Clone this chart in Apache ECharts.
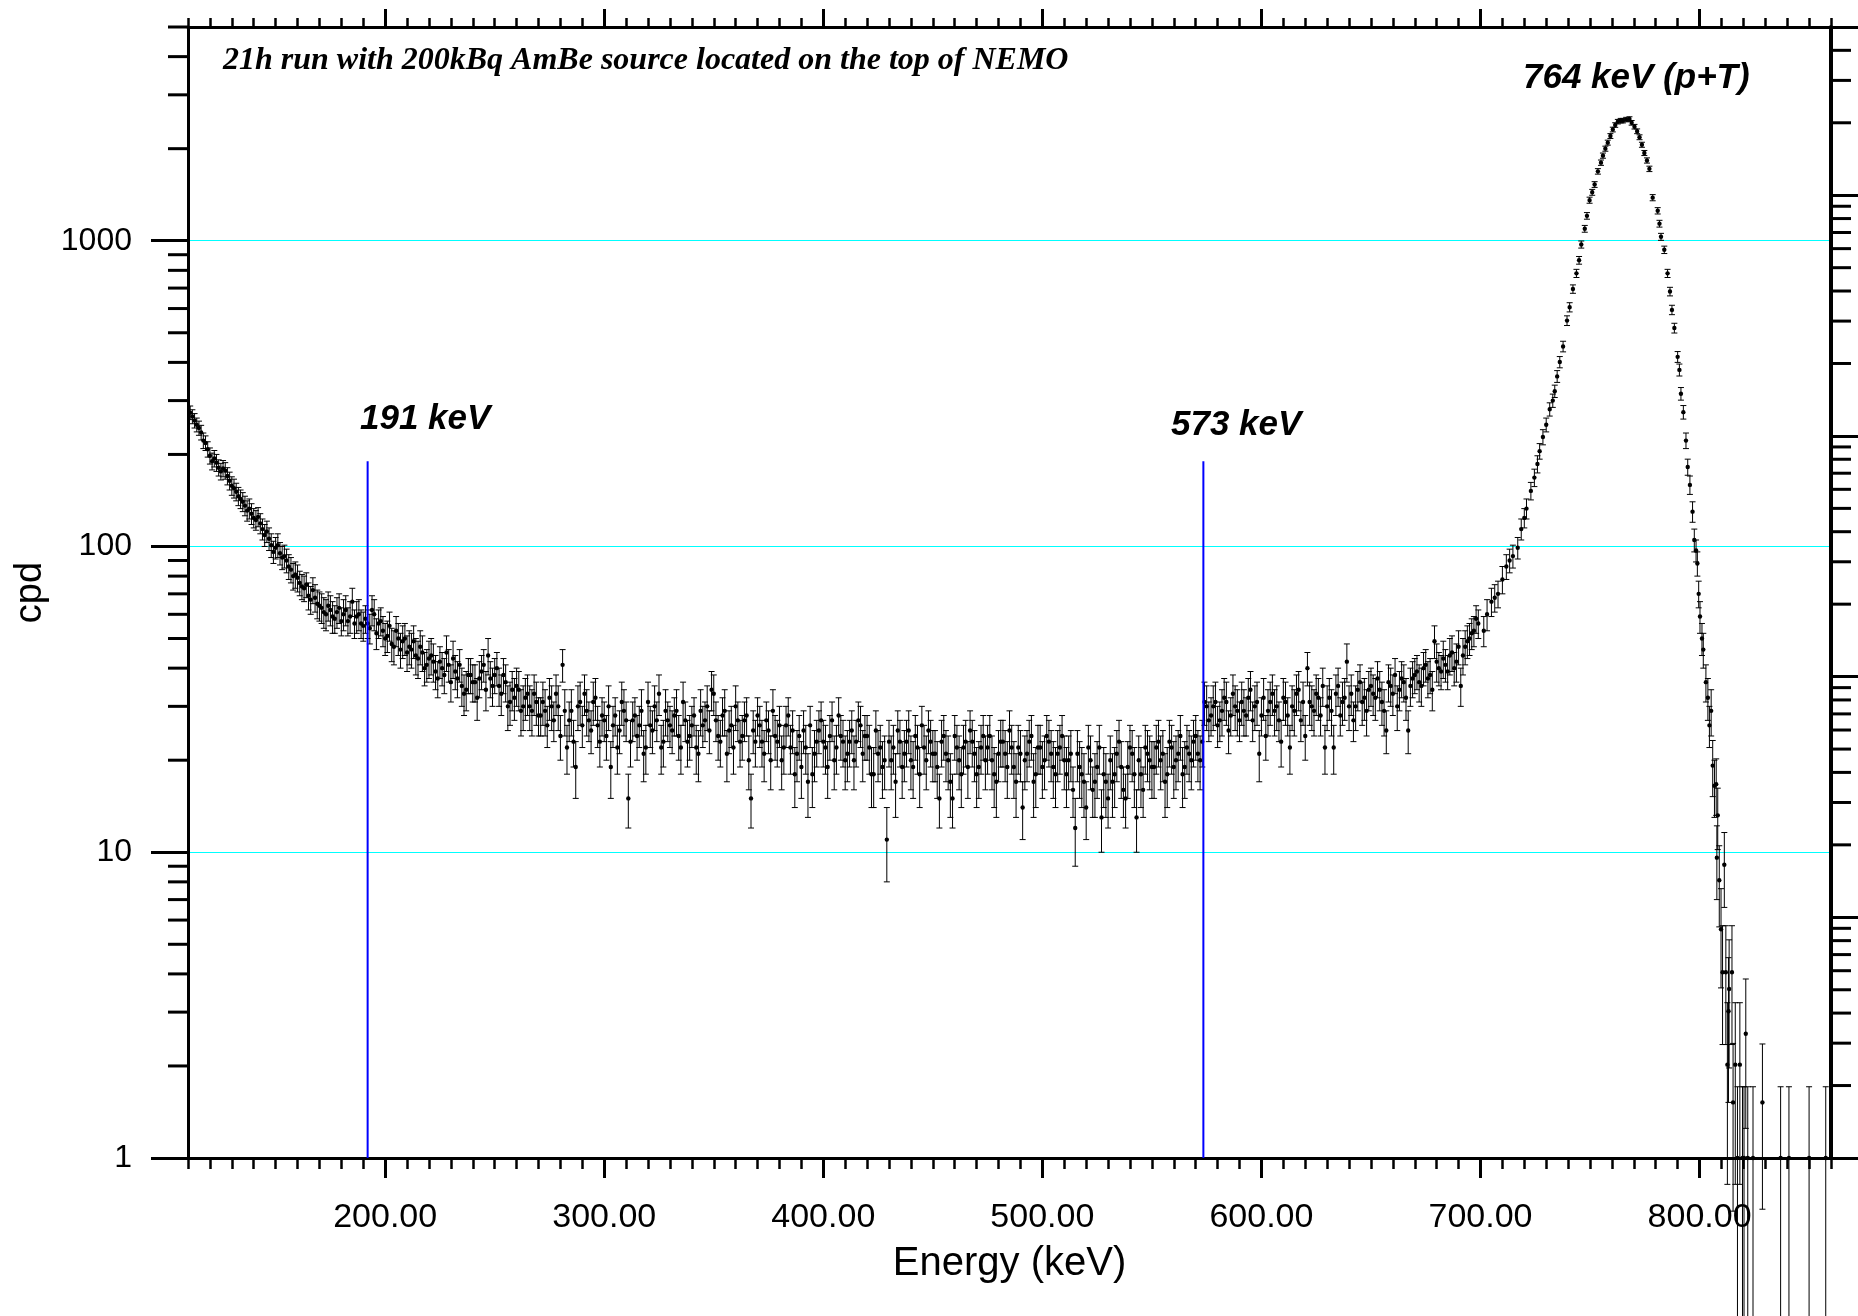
<!DOCTYPE html>
<html lang="en">
<head>
<meta charset="UTF-8">
<title>AmBe spectrum</title>
<script src="https://cdn.jsdelivr.net/npm/echarts@6/dist/echarts.min.js"></script>
<style>
  html, body { margin: 0; padding: 0; background: #fff; }
  #container { width: 1858px; height: 1316px; }
</style>
</head>
<body>
<div id="container"></div>
<script type="text/javascript">
// continuum, odd-keV bins (energy keV, counts per day, error)
var energyC = [
  111,113,115,117,119,121,123,125,127,129,
  131,133,135,137,139,141,143,145,147,149,
  151,153,155,157,159,161,163,165,167,169,
  171,173,175,177,179,181,183,185,187,189,
  191,193,195,197,199,201,203,205,207,209,
  211,213,215,217,219,221,223,225,227,229,
  231,233,235,237,239,241,243,245,247,249,
  251,253,255,257,259,261,263,265,267,269,
  271,273,275,277,279,281,283,285,287,289,
  291,293,295,297,299,301,303,305,307,309,
  311,313,315,317,319,321,323,325,327,329,
  331,333,335,337,339,341,343,345,347,349,
  351,353,355,357,359,361,363,365,367,369,
  371,373,375,377,379,381,383,385,387,389,
  391,393,395,397,399,401,403,405,407,409,
  411,413,415,417,419,421,423,425,427,429,
  431,433,435,437,439,441,443,445,447,449,
  451,453,455,457,459,461,463,465,467,469,
  471,473,475,477,479,481,483,485,487,489,
  491,493,495,497,499,501,503,505,507,509,
  511,513,515,517,519,521,523,525,527,529,
  531,533,535,537,539,541,543,545,547,549,
  551,553,555,557,559,561,563,565,567,569,
  571,573,575,577,579,581,583,585,587,589,
  591,593,595,597,599,601,603,605,607,609,
  611,613,615,617,619,621,623,625,627,629,
  631,633,635,637,639,641,643,645,647,649,
  651,653,655,657,659,661,663,665,667,669,
  671,673,675,677,679,681,683,685,687,689,
  691,693,695,697,699
];
var cpdC = [
  274,258,244,222,208,190,188,176,177,164,
  155,146,140,131,128,122,119,109,106,96,
  101,92,90,84,81,76,73,69,72,65,
  63,60,62,58,63,60,57,66,59,56,
  58,54,60,56,53,51,48,53,46,50,
  47,49,43,45,41,44,39,42,38,41,
  43,37,35,34,38,36,37,41,44,35,
  40,33,36,31,32,34,30,33,29,31,
  28,29,32,27,30,41,22,29,19,31,
  33,27,31,26,28,24,19,28,25,29,
  15,27,24,29,22,26,30,33,23,27,
  25,29,22,27,24,28,21,26,30,34,
  27,23,29,25,22,27,24,28,15,23,
  26,21,25,29,23,20,26,22,18,24,
  25,17,18,23,27,22,24,20,28,23,
  21,25,23,26,24,22,18,21,19,11,
  20,17,23,21,25,19,22,26,20,23,
  21,15,24,20,15,22,18,23,25,21,
  19,24,22,20,17,23,21,25,19,22,
  14,21,24,18,22,20,23,19,21,24,
  18,21,12,19,17,22,16,19,13,17,
  20,18,23,16,19,21,13,18,22,20,
  19,23,21,18,22,20,24,19,21,23,
  21,23,30,28,31,27,32,25,33,29,
  31,28,34,30,21,32,29,33,30,23,
  31,22,29,34,31,40,30,33,28,22,
  32,22,35,31,42,33,30,36,32,34,
  33,37,31,25,35,38,34,36,25,37,
  39,35,41,38,49,40,43,39,45,42,
  35,47,50,53,56
];
var sigmaC = [
  14,14,13,13,12,12,12,11,11,11,
  11,10,10,10,10,9,9,9,9,8,
  9,8,8,8,8,7,7,7,7,7,
  7,7,7,6,7,7,6,7,7,6,
  6,6,7,6,6,6,6,6,6,6,
  6,6,6,6,5,6,5,5,5,5,
  6,5,5,5,5,5,5,5,6,5,
  5,5,5,5,5,5,5,5,5,5,
  4,5,5,4,5,5,4,5,4,5,
  5,4,5,4,4,4,4,4,4,5,
  3,4,4,5,4,4,5,5,4,4,
  4,5,4,4,4,4,4,4,5,5,
  4,4,5,4,4,4,4,4,3,4,
  4,4,4,5,4,4,4,4,4,4,
  4,4,4,4,4,4,4,4,4,4,
  4,4,4,4,4,4,4,4,4,3,
  4,4,4,4,4,4,4,4,4,4,
  4,3,4,4,3,4,4,4,4,4,
  4,4,4,4,4,4,4,4,4,4,
  3,4,4,4,4,4,4,4,4,4,
  4,4,3,4,4,4,3,4,3,4,
  4,4,4,3,4,4,3,4,4,4,
  4,4,4,4,4,4,4,4,4,4,
  4,4,5,4,5,4,5,4,5,5,
  5,4,5,5,4,5,5,5,5,4,
  5,4,5,5,5,5,5,5,4,4,
  5,4,5,5,6,5,5,5,5,5,
  5,5,5,4,5,5,5,5,4,5,
  5,5,5,5,6,5,6,5,6,6,
  5,6,6,6,6
];

// continuum, even-keV bins
var energyC2 = [
  112,114,116,118,120,122,124,126,128,130,
  132,134,136,138,140,142,144,146,148,150,
  152,154,156,158,160,162,164,166,168,170,
  172,174,176,178,180,182,184,186,188,190,
  192,194,196,198,200,202,204,206,208,210,
  212,214,216,218,220,222,224,226,228,230,
  232,234,236,238,240,242,244,246,248,250,
  252,254,256,258,260,262,264,266,268,270,
  272,274,276,278,280,282,284,286,288,290,
  292,294,296,298,300,302,304,306,308,310,
  312,314,316,318,320,322,324,326,328,330,
  332,334,336,338,340,342,344,346,348,350,
  352,354,356,358,360,362,364,366,368,370,
  372,374,376,378,380,382,384,386,388,390,
  392,394,396,398,400,402,404,406,408,410,
  412,414,416,418,420,422,424,426,428,430,
  432,434,436,438,440,442,444,446,448,450,
  452,454,456,458,460,462,464,466,468,470,
  472,474,476,478,480,482,484,486,488,490,
  492,494,496,498,500,502,504,506,508,510,
  512,514,516,518,520,522,524,526,528,530,
  532,534,536,538,540,542,544,546,548,550,
  552,554,556,558,560,562,564,566,568,570,
  572,574,576,578,580,582,584,586,588,590,
  592,594,596,598,600,602,604,606,608,610,
  612,614,616,618,620,622,624,626,628,630,
  632,634,636,638,640,642,644,646,648,650,
  652,654,656,658,660,662,664,666,668,670,
  672,674,676,678,680,682,684,686,688,690,
  692,694,696,698
];
var cpdC2 = [
  266,250,236,218,198,194,181,180,170,158,
  151,143,136,133,124,125,114,112,101,99,
  95,93,86,80,79,74,75,67,68,64,
  61,64,59,61,57,62,59,56,60,55,
  56,62,52,57,50,55,47,50,49,45,
  46,44,47,40,43,42,37,40,45,36,
  39,41,33,38,36,32,39,34,37,38,
  35,38,30,34,35,29,32,30,33,28,
  31,26,30,33,24,29,27,23,30,26,
  29,25,32,23,27,30,26,22,31,27,
  23,28,26,21,31,25,27,22,29,26,
  28,24,31,23,26,22,29,27,25,33,
  24,28,21,26,30,23,27,20,25,28,
  23,27,20,24,26,22,28,25,21,19,
  22,26,21,25,23,19,27,22,24,20,
  23,20,27,21,24,18,25,22,20,23,
  22,25,19,23,20,24,18,22,25,21,
  19,23,21,17,24,20,22,19,23,18,
  22,20,24,18,21,23,19,22,17,21,
  20,23,17,22,19,24,21,18,22,20,
  20,16,21,18,14,20,17,22,18,15,
  17,21,19,15,22,18,20,16,21,19,
  22,20,17,23,19,21,18,22,20,24,
  20,31,27,30,26,29,31,28,30,27,
  29,32,27,31,28,24,31,29,27,32,
  28,30,33,27,24,31,29,32,35,30,
  29,33,28,32,30,27,34,31,29,35,
  32,34,29,36,33,30,37,32,35,38,
  36,40,37,34,42,39,41,44,40,47,
  44,49,52,58
];
var sigmaC2 = [
  14,13,13,12,12,12,11,11,11,11,
  10,10,10,10,9,9,9,9,9,8,
  8,8,8,8,8,7,7,7,7,7,
  7,7,7,7,6,7,7,6,7,6,
  6,7,6,6,6,6,6,6,6,6,
  6,6,6,5,6,6,5,5,6,5,
  5,5,5,5,5,5,5,5,5,5,
  5,5,5,5,5,5,5,5,5,4,
  5,4,5,5,4,5,4,4,5,4,
  5,4,5,4,4,5,4,4,5,4,
  4,4,4,4,5,4,4,4,5,4,
  4,4,5,4,4,4,5,4,4,5,
  4,4,4,4,5,4,4,4,4,4,
  4,4,4,4,4,4,4,4,4,4,
  4,4,4,4,4,4,4,4,4,4,
  4,4,4,4,4,4,4,4,4,4,
  4,4,4,4,4,4,4,4,4,4,
  4,4,4,4,4,4,4,4,4,4,
  4,4,4,4,4,4,4,4,4,4,
  4,4,4,4,4,4,4,4,4,4,
  4,3,4,4,3,4,4,4,4,3,
  4,4,4,3,4,4,4,3,4,4,
  4,4,4,4,4,4,4,4,4,4,
  4,5,4,5,4,5,5,4,5,4,
  5,5,4,5,4,4,5,5,4,5,
  4,5,5,4,4,5,5,5,5,5,
  5,5,4,5,5,4,5,5,5,5,
  5,5,5,5,5,5,5,5,5,5,
  5,5,5,5,6,5,5,6,5,6,
  6,6,6,6
];

// 764 keV peak and high-energy tail
var energyP = [
  701.5,703,705,706.5,708,710,711.8,713.3,714.8,717,
  718.6,720,721,723,724.6,726,727,728.5,730,731.6,
  733,733.9,735,736.2,737.7,739.5,740.7,742.2,743.8,745,
  746,747.6,748.6,749.8,751,752.1,753.6,755,755.9,757,
  758.1,759.3,760.4,761.5,762.7,764,765,766.5,768,769,
  770.3,771.5,772.6,773.7,774.8,776,777.1,778.6,780.9,781.7,
  782.4,783.9,785.4,786.5,787.4,788.5,790,790.8,791.5,792.6,
  793.8,794.6,795.6,796.8,797.6,798.4,799,799.6,800.2,801.1,
  801.7,802.9,803.8,804.5,805.3,806,806.8,807.6,807.9,808.3,
  809,809.8,810.5,811.3,812,812.7,813.2,813.5,814.8,815.3,
  816.3,817.3,818.4,819.6,820.3,821.1,822,824.4,828.7,837,
  840.8,850,857.6
];
var cpdP = [
  53,60,66,68,70,78,86,90,93,99,
  114,124,133,152,168,186,205,228,250,281,
  300,322,360,401,451,548,606,695,782,863,
  972,1094,1206,1357,1440,1527,1686,1800,1898,2000,
  2093,2200,2310,2390,2451,2470,2470,2490,2500,2430,
  2360,2280,2180,2060,1936,1830,1718,1383,1253,1137,
  1030,934,782,682,594,518,417,378,316,275,
  222,182,159,130,105,97,88,70,59,50,
  46,36,32,26,29,19.2,16.5,16.7,9.6,13.2,
  8.1,5.6,4.05,9.1,4.05,2.02,3.02,3.57,4.05,1.52,
  2.02,1,2.02,1,1,2.55,1,1,1.52,1,
  1,1,1
];
var sigmaP = [
  6,7,7,7,7,8,8,8,8,8,
  9,9,10,10,11,12,12,13,13,14,
  15,15,16,17,18,20,21,22,24,25,
  26,28,30,31,32,33,35,36,37,38,
  39,40,41,41,42,42,42,42,43,42,
  41,41,40,39,37,36,35,32,30,29,
  27,26,24,22,21,19,17,17,15,14,
  13,11,11,10,9,8,8,7,7,6,
  6,5,5,4,5,4,3.5,3.5,2.6,3,
  2.4,2,1.7,2.5,1.7,1.2,1.5,1.6,1.7,0.85,
  1.2,0.71,1.2,0.71,0.71,1.3,0.71,0.71,0.84,0.71,
  0.71,0.71,0.71
];

// axes
var xRange = [110, 860];
var xMajor = [200, 300, 400, 500, 600, 700, 800];
var yRange = [1, 5000];
var yRightRange = [1, 50000];
var leftMinor = [2,3,4,5,6,7,8,9, 20,30,40,50,60,70,80,90, 200,300,400,500,600,700,800,900, 2000,3000,4000,5000];
var rightMinor = [2,3,4,5,6,7,8,9, 20,30,40,50,60,70,80,90, 200,300,400,500,600,700,800,900,
                  2000,3000,4000,5000,6000,7000,8000,9000, 20000,30000,40000];

// marker lines
var markerEnergy = [192, 573.5];
var markerTop = 190;

var dom = document.getElementById('container');
var myChart = echarts.init(dom, null, { renderer: 'canvas' });

var points = [];
function addPoints(es, vs, ss) {
    for (var i = 0; i < es.length; i++) {
        // error bar can go below zero -> let it run off the bottom
        points.push([es[i], vs[i], Math.max(vs[i] - ss[i], 0.05), vs[i] + ss[i]]);
    }
}
addPoints(energyC, cpdC, sigmaC);
addPoints(energyC2, cpdC2, sigmaC2);
addPoints(energyP, cpdP, sigmaP);

var SANS = '"Liberation Sans", Arial, Helvetica, sans-serif';
var barStyle = { stroke: '#000', lineWidth: 1 };

function renderErr(params, api) {
    var e = api.value(0);
    var p = api.coord([e, api.value(1)]);
    var lo = api.coord([e, api.value(2)]);
    var hi = api.coord([e, api.value(3)]);
    return {
        type: 'group',
        children: [
            { type: 'line', shape: { x1: p[0], y1: lo[1], x2: p[0], y2: hi[1] }, style: barStyle },
            { type: 'line', shape: { x1: p[0] - 3, y1: hi[1], x2: p[0] + 3, y2: hi[1] }, style: barStyle },
            { type: 'line', shape: { x1: p[0] - 3, y1: lo[1], x2: p[0] + 3, y2: lo[1] }, style: barStyle },
            { type: 'circle', shape: { cx: p[0], cy: p[1], r: 2.2 }, style: { fill: '#000' } }
        ]
    };
}

function minorTick(dir) {
    return function (params, api) {
        var p = api.coord([api.value(0), api.value(1)]);
        return {
            type: 'line',
            shape: { x1: p[0], y1: p[1], x2: p[0] + dir * 20, y2: p[1] },
            style: { stroke: '#000', lineWidth: 3 }
        };
    };
}

function markerSeries(e) {
    return {
        type: 'line',
        xAxisIndex: 0,
        yAxisIndex: 0,
        data: [[e, yRange[0]], [e, markerTop]],
        symbol: 'none',
        lineStyle: { color: '#0000ff', width: 2 },
        silent: true,
        z: 5
    };
}

var baseX = { type: 'value', min: xRange[0], max: xRange[1], splitLine: { show: false } };

option = {
    animation: false,
    backgroundColor: '#fff',
    grid: { left: 188, right: 27, top: 27, bottom: 158 },
    xAxis: [
        Object.assign({}, baseX, {
            position: 'bottom',
            axisLine: { lineStyle: { color: '#000', width: 3 } },
            axisTick: { customValues: xMajor, length: 20, lineStyle: { color: '#000', width: 3 } },
            axisLabel: {
                customValues: xMajor, margin: 43, fontSize: 34, color: '#000', fontFamily: SANS,
                formatter: function (v) { return v.toFixed(2); }
            },
            name: 'Energy (keV)', nameLocation: 'middle', nameGap: 86,
            nameTextStyle: { fontSize: 40, color: '#000', fontFamily: SANS }
        }),
        Object.assign({}, baseX, {
            position: 'bottom', interval: 10,
            axisLine: { show: false },
            axisTick: { length: 11, lineStyle: { color: '#000', width: 2.5 } },
            axisLabel: { show: false }
        }),
        Object.assign({}, baseX, {
            position: 'top',
            axisLine: { lineStyle: { color: '#000', width: 3 } },
            axisTick: { customValues: xMajor, length: 18, lineStyle: { color: '#000', width: 3 } },
            axisLabel: { show: false }
        }),
        Object.assign({}, baseX, {
            position: 'top', interval: 10,
            axisLine: { show: false },
            axisTick: { length: 9, lineStyle: { color: '#000', width: 2.5 } },
            axisLabel: { show: false }
        })
    ],
    yAxis: [
        {
            type: 'log', logBase: 10, min: yRange[0], max: yRange[1], position: 'left',
            axisLine: { show: true, lineStyle: { color: '#000', width: 3 } },
            axisTick: { show: true, length: 37, lineStyle: { color: '#000', width: 3 } },
            axisLabel: {
                margin: 56, fontSize: 32, color: '#000', fontFamily: SANS, showMaxLabel: false,
                formatter: function (v) { return String(Math.round(v)); }
            },
            splitLine: { show: true, showMaxLine: false, lineStyle: { color: '#00ffff', width: 1.2 } },
            name: 'cpd', nameLocation: 'middle', nameGap: 136,
            nameTextStyle: { fontSize: 38, color: '#000', fontFamily: SANS }
        },
        {
            type: 'log', logBase: 10, min: yRightRange[0], max: yRightRange[1], position: 'right',
            axisLine: { show: true, lineStyle: { color: '#000', width: 4 } },
            axisTick: { show: true, length: 28, lineStyle: { color: '#000', width: 3 } },
            axisLabel: { show: false },
            splitLine: { show: false }
        }
    ],
    graphic: [
        {
            type: 'text', x: 223, y: 61, silent: true,
            style: {
                text: '21h run with 200kBq AmBe source located on the top of NEMO',
                font: 'italic bold 32px "Liberation Serif", "Times New Roman", serif',
                fill: '#000', align: 'left', verticalAlign: 'middle'
            }
        },
        {
            type: 'text', x: 360, y: 419, silent: true,
            style: { text: '191 keV', font: 'italic bold 35px ' + SANS, fill: '#000', align: 'left', verticalAlign: 'middle' }
        },
        {
            type: 'text', x: 1171, y: 425, silent: true,
            style: { text: '573 keV', font: 'italic bold 35px ' + SANS, fill: '#000', align: 'left', verticalAlign: 'middle' }
        },
        {
            type: 'text', x: 1523, y: 78, silent: true,
            style: { text: '764 keV (p+T)', font: 'italic bold 35px ' + SANS, fill: '#000', align: 'left', verticalAlign: 'middle' }
        }
    ],
    series: [
        {
            type: 'custom', xAxisIndex: 0, yAxisIndex: 0,
            renderItem: renderErr,
            data: points,
            encode: { x: 0, y: 1 },
            clip: false, silent: true, z: 3
        },
        markerSeries(markerEnergy[0]),
        markerSeries(markerEnergy[1]),
        {
            type: 'custom', xAxisIndex: 0, yAxisIndex: 0,
            renderItem: minorTick(-1),
            data: leftMinor.map(function (v) { return [xRange[0], v]; }),
            clip: false, silent: true, z: 6
        },
        {
            type: 'custom', xAxisIndex: 0, yAxisIndex: 1,
            renderItem: minorTick(1),
            data: rightMinor.map(function (v) { return [xRange[1], v]; }),
            clip: false, silent: true, z: 6
        }
    ]
};

myChart.setOption(option);
window.addEventListener('resize', myChart.resize);
</script>
</body>
</html>
